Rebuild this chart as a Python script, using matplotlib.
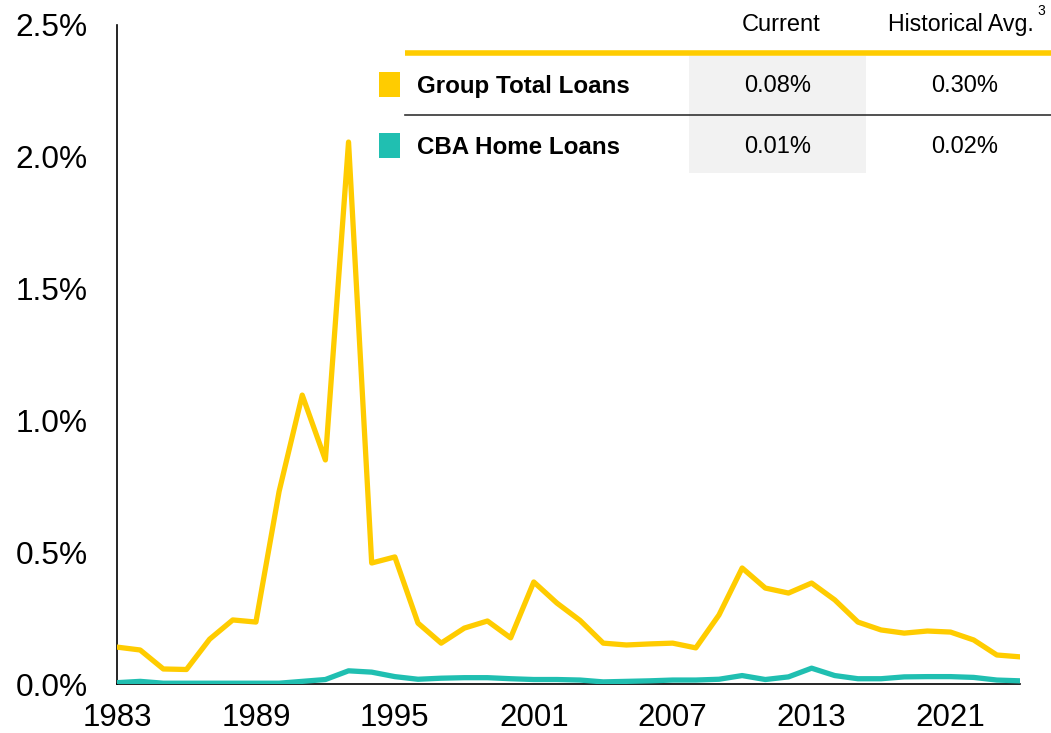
import matplotlib
matplotlib.use("Agg")
import matplotlib.pyplot as plt
from matplotlib.patches import Rectangle

plt.rcParams['font.family'] = ['Liberation Sans', 'DejaVu Sans']

# loss rates (% of loans), one point per period
group_total = [0.140, 0.129, 0.057, 0.055, 0.170, 0.243, 0.235, 0.730, 1.096, 0.850,
               2.056, 0.459, 0.482, 0.231, 0.155, 0.212, 0.239, 0.175, 0.387, 0.307,
               0.241, 0.155, 0.148, 0.152, 0.155, 0.137, 0.262, 0.440, 0.364, 0.345,
               0.383, 0.319, 0.235, 0.205, 0.193, 0.201, 0.197, 0.167, 0.110, 0.103]
cba_home = [0.005, 0.010, 0.003, 0.003, 0.003, 0.003, 0.003, 0.003, 0.010, 0.017,
            0.050, 0.045, 0.028, 0.018, 0.022, 0.024, 0.024, 0.020, 0.017, 0.017,
            0.015, 0.008, 0.010, 0.012, 0.015, 0.015, 0.018, 0.032, 0.017, 0.027,
            0.060, 0.032, 0.020, 0.020, 0.027, 0.028, 0.028, 0.025, 0.015, 0.012]
tick_pos = [0, 6, 12, 18, 24, 30, 36]
tick_labels = ['1983', '1989', '1995', '2001', '2007', '2013', '2021']

series_names = ['Group Total Loans', 'CBA Home Loans']
current = ['0.08%', '0.01%']
hist_avg = ['0.30%', '0.02%']

YELLOW = '#FFCC00'
TEAL = '#20BFB1'

fig = plt.figure(figsize=(10.51, 7.33), dpi=100)
ax = fig.add_axes([117 / 1051, 49 / 733, 903 / 1051, 659 / 733])

x = list(range(len(group_total)))
ax.plot(x, group_total, color=YELLOW, lw=3.8, solid_joinstyle='round', zorder=3)
ax.plot(x, cba_home, color=TEAL, lw=3.8, solid_joinstyle='round', zorder=4)

ax.set_xlim(0, len(x) - 1)
ax.set_ylim(0, 2.5)
ax.set_yticks([0, 0.5, 1.0, 1.5, 2.0, 2.5])
ax.set_yticklabels([f'{v:.1f}%' for v in [0, 0.5, 1.0, 1.5, 2.0, 2.5]])
ax.set_xticks(tick_pos)
ax.set_xticklabels(tick_labels)
ax.tick_params(axis='y', length=0, pad=21, labelsize=22.8)
ax.tick_params(axis='x', length=0, pad=14, labelsize=22.5)
for s in ['top', 'right']:
    ax.spines[s].set_visible(False)
for s in ['left', 'bottom']:
    ax.spines[s].set_linewidth(1.2)
    ax.spines[s].set_color('black')
ax.patch.set_alpha(0)

# table overlay in pixel coordinates
ov = fig.add_axes([0, 0, 1, 1], zorder=-1)
ov.set_xlim(0, 1051)
ov.set_ylim(733, 0)
ov.axis('off')

ov.add_patch(Rectangle((689, 56), 177, 117, color='#F2F2F2', lw=0))
ov.plot([405, 1051], [53, 53], color=YELLOW, lw=4, solid_capstyle='butt')
ov.plot([405, 1051], [115, 115], color='#333333', lw=1.2)

ov.text(781, 31, 'Current', ha='center', va='baseline', fontsize=17)
ov.text(1034, 31, 'Historical Avg.', ha='right', va='baseline', fontsize=16.7)
ov.text(1037, 11, '3', ha='left', va='center', fontsize=10)

rows_y = [86, 147]
for name, cur, hist, yy, col in zip(series_names, current, hist_avg, rows_y, [YELLOW, TEAL]):
    ov.add_patch(Rectangle((379, yy - 14), 21, 25, color=col, lw=0))
    ov.text(417, yy, name, ha='left', va='center', fontsize=17.4, fontweight='bold')
    ov.text(778, yy, cur, ha='center', va='center', fontsize=17)
    ov.text(965, yy, hist, ha='center', va='center', fontsize=17)

fig.savefig('out.png', dpi=100)
